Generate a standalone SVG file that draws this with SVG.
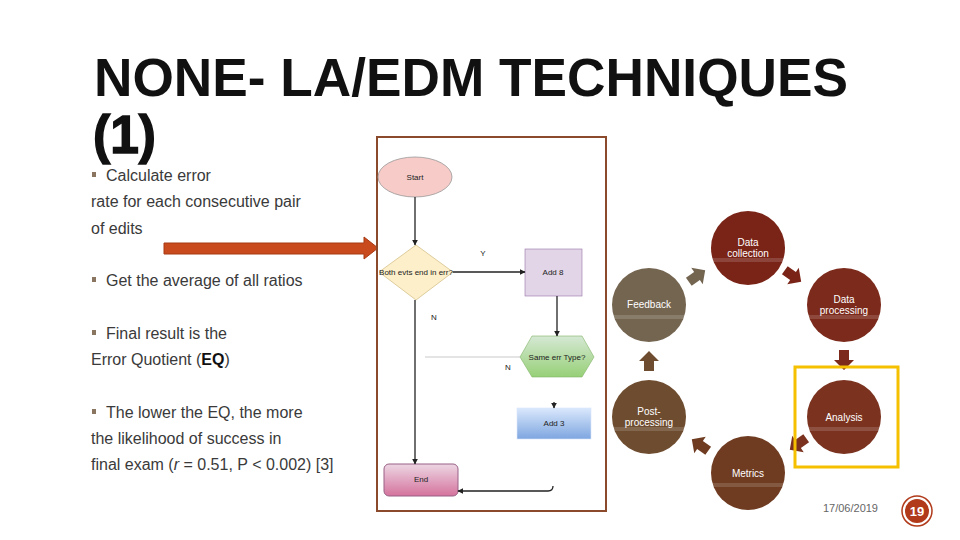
<svg xmlns="http://www.w3.org/2000/svg" width="960" height="540" viewBox="0 0 960 540">
<defs>
<style>
.title{font-family:"Liberation Sans",Arial,sans-serif;font-size:54px;font-weight:bold;fill:#111;}
.body{font-family:"Liberation Sans",Arial,sans-serif;font-size:16px;fill:#3a3a3a;}
.fc{font-family:"Liberation Sans",Arial,sans-serif;font-size:8px;fill:#222;text-anchor:middle;}
.cl{font-family:"Liberation Sans",Arial,sans-serif;font-size:10px;fill:#fff;text-anchor:middle;}
.ln{stroke:#222;stroke-width:1.3;fill:none;}
.bul{fill:#8a7560;}
</style>
<marker id="ah" viewBox="0 0 10 10" refX="9" refY="5" markerWidth="6" markerHeight="6" orient="auto" markerUnits="userSpaceOnUse">
<path d="M0,0 L10,5 L0,10 Z" fill="#222"/>
</marker>
<linearGradient id="gBlue" x1="0" y1="0" x2="0" y2="1"><stop offset="0" stop-color="#dae8fc"/><stop offset="1" stop-color="#7ea6e0"/></linearGradient>
<linearGradient id="gPink" x1="0" y1="0" x2="0" y2="1"><stop offset="0" stop-color="#ecd6e3"/><stop offset="1" stop-color="#d5739d"/></linearGradient>
<linearGradient id="gGreen" x1="0" y1="0" x2="0" y2="1"><stop offset="0" stop-color="#d5e8d4"/><stop offset="1" stop-color="#97d077"/></linearGradient>
<path id="cyArrow" d="M-10,-5 L0,-5 L0,-10 L10,0 L0,10 L0,5 L-10,5 Z"/>
</defs>
<rect width="960" height="540" fill="#fff"/>

<g id="title">
<text class="title" x="94" y="96" textLength="754" lengthAdjust="spacingAndGlyphs">NONE- LA/EDM TECHNIQUES</text>
<text class="title" x="93" y="153" font-weight="normal" stroke="#111" stroke-width="1.5" textLength="63" lengthAdjust="spacingAndGlyphs">(1)</text>
</g>

<g id="bullets">
<rect class="bul" x="92" y="172" width="4" height="5"/>
<text class="body" x="106" y="181">Calculate error</text>
<text class="body" x="91" y="207">rate for each consecutive pair</text>
<text class="body" x="91" y="234">of edits</text>
<rect class="bul" x="92" y="277" width="4" height="5"/>
<text class="body" x="106" y="286">Get the average of all ratios</text>
<rect class="bul" x="92" y="330" width="4" height="5"/>
<text class="body" x="106" y="339">Final result is the</text>
<text class="body" x="91" y="365">Error Quotient (<tspan font-weight="bold" fill="#111">EQ</tspan>)</text>
<rect class="bul" x="92" y="409" width="4" height="5"/>
<text class="body" x="106" y="418">The lower the EQ, the more</text>
<text class="body" x="91" y="444">the likelihood of success in</text>
<text class="body" x="91" y="470">final exam (<tspan font-style="italic">r</tspan> = 0.51, P &lt; 0.002) [3]</text>
</g>

<g id="pointer">
<path d="M164,243 L364,243 L364,237 L378,248 L364,259 L364,254 L164,254 Z" fill="#c94a1c" stroke="#a63a14" stroke-width="1"/>
</g>

<g id="flowchart">
<rect id="frame" x="377" y="137" width="229" height="374" fill="#fff" stroke="#8b4a2b" stroke-width="2"/>
<g id="start"><ellipse cx="415" cy="177" rx="37" ry="20" fill="#f6cbc8" stroke="#999" stroke-width="0.8"/><text class="fc" x="415" y="180">Start</text></g>
<g id="decision1"><polygon points="416,245 453,272 416,300 379,272" fill="#fdefc9" stroke="#d6c28c" stroke-width="0.8"/><text class="fc" x="416" y="275" font-size="7.5">Both evts end in err?</text></g>
<g id="add8"><rect x="525" y="249" width="57" height="47" fill="#e1d5e7" stroke="#9673a6" stroke-width="0.6"/><text class="fc" x="553" y="275">Add 8</text></g>
<g id="decision2"><polygon points="520,357 532,336 582,336 594,357 582,377 532,377" fill="url(#gGreen)" stroke="#82b366" stroke-width="0.6"/><text class="fc" x="557" y="360">Same err Type?</text></g>
<g id="add3"><rect x="517" y="408" width="74" height="31" fill="url(#gBlue)" stroke="#dae8fc" stroke-width="0.6"/><text class="fc" x="554" y="426">Add 3</text></g>
<g id="end"><rect x="384" y="464" width="74" height="32" rx="5" fill="url(#gPink)" stroke="#996185" stroke-width="1"/><text class="fc" x="421" y="482">End</text></g>
<g id="connectors">
<line class="ln" x1="415" y1="197" x2="415" y2="245" marker-end="url(#ah)"/>
<line class="ln" x1="453" y1="272" x2="525" y2="272" marker-end="url(#ah)"/>
<line class="ln" x1="557" y1="296" x2="557" y2="336" stroke="#888" stroke-width="0.8" marker-end="url(#ah)"/>
<line x1="520" y1="357" x2="425" y2="357" stroke="#bbb" stroke-width="0.8"/>
<line class="ln" x1="415" y1="300" x2="415" y2="464" marker-end="url(#ah)"/>
<line class="ln" x1="554" y1="402" x2="554" y2="408" marker-end="url(#ah)"/>
<path class="ln" d="M553,486 Q553,491 548,491 L458,491" marker-end="url(#ah)"/>
<text class="fc" x="483" y="256">Y</text>
<text class="fc" x="434" y="320">N</text>
<text class="fc" x="508" y="370">N</text>
</g>
</g>

<g id="cycle">
<g id="dc"><circle cx="748" cy="248" r="37" fill="#7a2418"/><rect x="712" y="258" width="72" height="4" fill="#fff" opacity="0.15"/><text class="cl" x="748" y="246">Data</text><text class="cl" x="748" y="257">collection</text></g>
<g id="dp"><circle cx="844" cy="305" r="37" fill="#7b2a1b"/><rect x="808" y="315" width="72" height="4" fill="#fff" opacity="0.15"/><text class="cl" x="844" y="303">Data</text><text class="cl" x="844" y="314">processing</text></g>
<g id="an"><circle cx="844" cy="417" r="37" fill="#7b3320"/><rect x="808" y="427" width="72" height="4" fill="#fff" opacity="0.15"/><text class="cl" x="844" y="421">Analysis</text></g>
<g id="me"><circle cx="748" cy="473" r="37" fill="#6f3c22"/><rect x="712" y="483" width="72" height="4" fill="#fff" opacity="0.15"/><text class="cl" x="748" y="477">Metrics</text></g>
<g id="pp"><circle cx="649" cy="417" r="37" fill="#6e4c2f"/><rect x="613" y="427" width="72" height="4" fill="#fff" opacity="0.15"/><text class="cl" x="649" y="415">Post-</text><text class="cl" x="649" y="426">processing</text></g>
<g id="fb"><circle cx="649" cy="305" r="37" fill="#746551"/><rect x="613" y="315" width="72" height="4" fill="#fff" opacity="0.15"/><text class="cl" x="649" y="308">Feedback</text></g>
<g id="cycleArrows">
<use href="#cyArrow" transform="translate(793,276) rotate(35)" fill="#7a2418"/>
<use href="#cyArrow" transform="translate(844,360) rotate(90)" fill="#7b2a1b"/>
<use href="#cyArrow" transform="translate(798,444) rotate(145)" fill="#7b3320"/>
<use href="#cyArrow" transform="translate(700,445) rotate(215)" fill="#6f3c22"/>
<use href="#cyArrow" transform="translate(649,361) rotate(270)" fill="#6e4c2f"/>
<use href="#cyArrow" transform="translate(697,276) rotate(325)" fill="#746551"/>
</g>
<rect id="highlight" x="795" y="367" width="103" height="100" fill="none" stroke="#f5c000" stroke-width="3"/>
</g>

<g id="footer">
<text x="878" y="512" font-family="'Liberation Sans',Arial,sans-serif" font-size="11" fill="#666" text-anchor="end">17/06/2019</text>
<circle cx="917" cy="511" r="15" fill="#fff" stroke="#b03a1a" stroke-width="1.5"/>
<circle cx="917" cy="511" r="12" fill="#b03a1a"/>
<text x="917" y="516" font-family="'Liberation Sans',Arial,sans-serif" font-size="13" font-weight="bold" fill="#fff" text-anchor="middle">19</text>
</g>
</svg>
